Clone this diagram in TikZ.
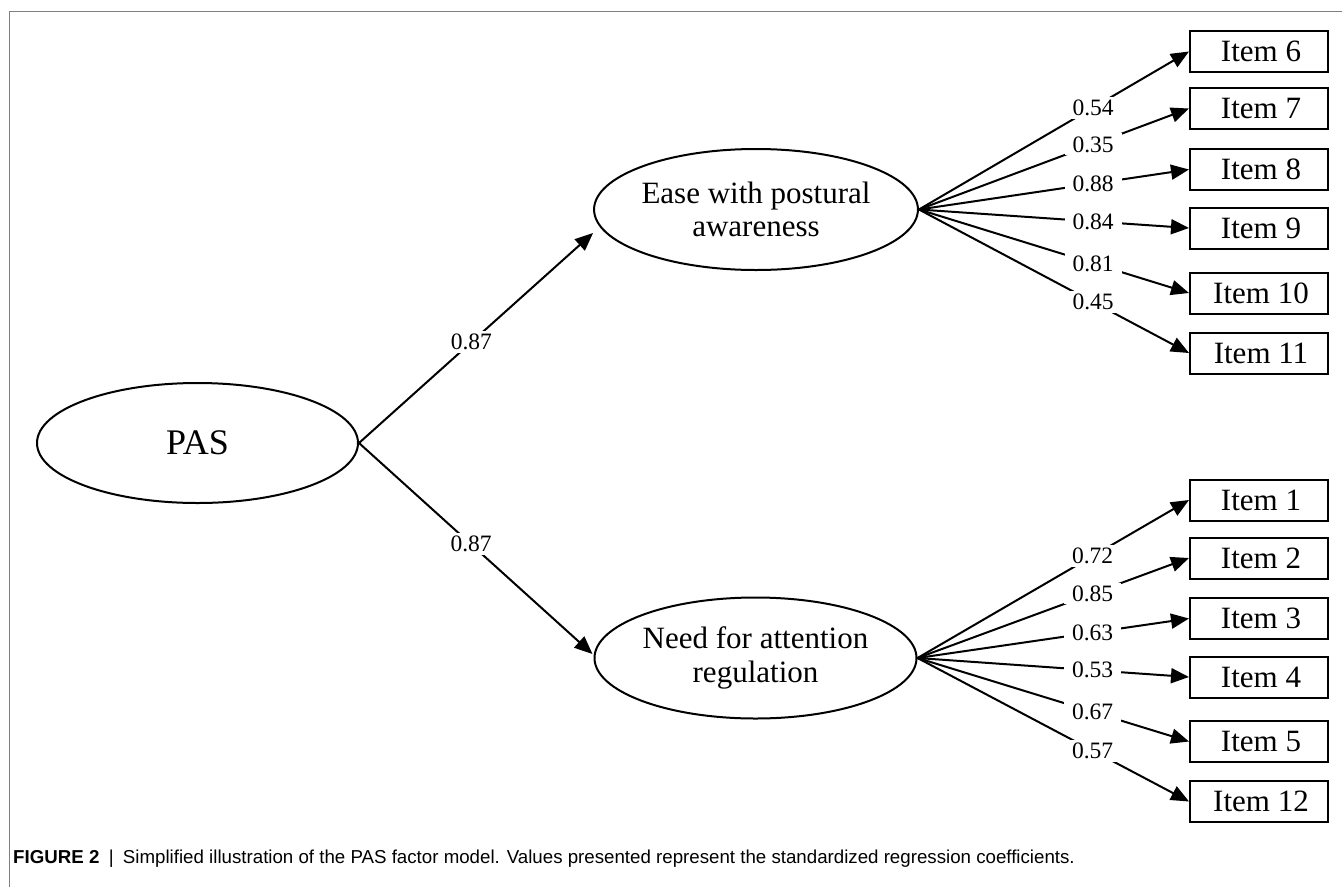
\documentclass[tikz,border=0pt]{standalone}
\usepackage{fontspec}
\setmainfont{Liberation Serif}
\newfontfamily\capfont{Liberation Sans}
\usetikzlibrary{shapes.geometric,arrows.meta,calc}
\begin{document}
\begin{tikzpicture}[x=1pt,y=-1pt,
  lat/.style={draw, line width=2pt, ellipse, minimum width=322pt, minimum height=121pt, inner sep=0pt, align=center, font=\fontsize{31}{33.5}\selectfont},
  itembox/.style={draw, line width=2pt, rectangle, minimum width=138pt, minimum height=41pt, inner sep=0pt, font=\fontsize{31}{34}\selectfont},
  arr/.style={line width=2pt, -{Triangle[length=18pt,width=15pt]}},
  lbl/.style={fill=white, inner xsep=8pt, inner ysep=3pt, font=\fontsize{23.5}{26}\selectfont},
  frameline/.style={draw=black!50, line width=1pt}
  ]
\useasboundingbox (0,0) rectangle (1342,887);
\draw[frameline] (9,887) -- (9,11) -- (1342,11);

\node[lat, font=\fontsize{36}{38}\selectfont, minimum width=321pt, minimum height=120pt] (pas) at (197.5,443) {PAS};
\node[lat] (ease) at (756,209.5) {Ease with postural\\awareness};
\node[lat] (need) at (755.5,658) {Need for attention\\regulation};

\node[itembox] (i6) at (1259,51.5) {\hspace*{4pt}Item 6};
\node[itembox] (i7) at (1259,108.5) {\hspace*{4pt}Item 7};
\node[itembox] (i8) at (1259,169.5) {\hspace*{4pt}Item 8};
\node[itembox] (i9) at (1259,228) {\hspace*{4pt}Item 9};
\node[itembox] (i10) at (1259,293) {\hspace*{4pt}Item 10};
\node[itembox] (i11) at (1259,353) {\hspace*{4pt}Item 11};

\node[itembox] (i1) at (1259,500) {\hspace*{4pt}Item 1};
\node[itembox] (i2) at (1259,558) {\hspace*{4pt}Item 2};
\node[itembox] (i3) at (1259,618.5) {\hspace*{4pt}Item 3};
\node[itembox] (i4) at (1259,677) {\hspace*{4pt}Item 4};
\node[itembox] (i5) at (1259,741.5) {\hspace*{4pt}Item 5};
\node[itembox] (i12) at (1259,801.5) {\hspace*{4pt}Item 12};

\draw[arr] (pas.east) -- node[lbl,pos=0.48]{0.87} ($(ease.west)+(0,23.5)$);
\draw[arr] (pas.east) -- node[lbl,pos=0.48]{0.87} ($(need.west)+(-1,-4)$);

\draw[arr] (ease.east) -- node[lbl,pos=0.645]{0.54} (i6.west);
\draw[arr] (ease.east) -- node[lbl,pos=0.645]{0.35} (i7.west);
\draw[arr] (ease.east) -- node[lbl,pos=0.645]{0.88} (i8.west);
\draw[arr] (ease.east) -- node[lbl,pos=0.645]{0.84} (i9.west);
\draw[arr] (ease.east) -- node[lbl,pos=0.645]{0.81} (i10.west);
\draw[arr] (ease.east) -- node[lbl,pos=0.645]{0.45} (i11.west);

\draw[arr] (need.east) -- node[lbl,pos=0.645]{0.72} (i1.west);
\draw[arr] (need.east) -- node[lbl,pos=0.645]{0.85} (i2.west);
\draw[arr] (need.east) -- node[lbl,pos=0.645]{0.63} (i3.west);
\draw[arr] (need.east) -- node[lbl,pos=0.645]{0.53} (i4.west);
\draw[arr] (need.east) -- node[lbl,pos=0.645]{0.67} (i5.west);
\draw[arr] (need.east) -- node[lbl,pos=0.645]{0.57} (i12.west);

\node[anchor=base west, inner sep=0pt, font=\capfont\fontsize{18.7}{22}\selectfont] (cap) at (13,863)
  {\textbf{FIGURE 2}\enspace|\enspace Simplified illustration of the PAS factor model. Values presented represent the standardized regression coefficients.};
\end{tikzpicture}
\end{document}
